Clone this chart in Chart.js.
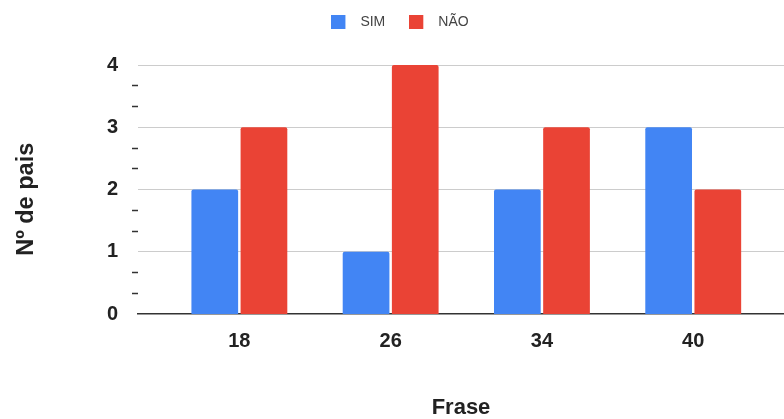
<!DOCTYPE html>
<html>
<head>
<meta charset="utf-8">
<script src="https://cdn.jsdelivr.net/npm/chart.js@4"></script>
<style>
  html, body { margin: 0; padding: 0; background: #fff; }
  #wrap { width: 784px; height: 419px; }
</style>
</head>
<body>
<div id="wrap"><canvas id="chart"></canvas></div>
<script>
const frases = ["18", "26", "34", "40"];
const sim = [2, 1, 2, 3];
const nao = [3, 4, 3, 2];
const yTicks = [0, 1, 2, 3, 4];

const FONT = "'Liberation Sans', Arial, sans-serif";

// legend swatch with some empty space on the right, like the sheets legend
function swatch(color) {
  const c = document.createElement("canvas");
  c.width = 22;
  c.height = 14;
  const g = c.getContext("2d");
  g.fillStyle = color;
  g.fillRect(0, 0, 14, 14);
  return c;
}

function isMajor(v) {
  return Math.abs(v - Math.round(v)) < 1e-6;
}

// more room under the legend, and nudge it a bit to the right
const legendGap = {
  id: "legendGap",
  afterInit(chart) {
    const lg = chart.legend;
    if (!lg || lg._gapWrapped) return;
    const fit = lg.fit;
    lg.fit = function () {
      fit.call(this);
      this.height += 26;
    };
    lg._gapWrapped = true;
  },
  afterLayout(chart) {
    const lg = chart.legend;
    if (!lg) return;
    lg.left += 8;
    lg.right += 8;
  },
};

const data = {
  datasets: [
    {
      label: "SIM",
      backgroundColor: "#4285F4",
      data: sim.map((v, i) => ({ x: i, y: v })),
    },
    {
      label: "NÃO",
      backgroundColor: "#EA4335",
      data: nao.map((v, i) => ({ x: i, y: v })),
    },
  ],
};

const config = {
  type: "bar",
  data: data,
  plugins: [legendGap],
  options: {
    responsive: true,
    maintainAspectRatio: false,
    animation: false,
    layout: { padding: { top: -9, right: 0, bottom: 0, left: 0 } },
    datasets: {
      bar: {
        categoryPercentage: 0.65,
        barPercentage: 0.95,
        borderRadius: 2,
        borderSkipped: "bottom",
      },
    },
    plugins: {
      tooltip: { enabled: false },
      legend: {
        position: "top",
        align: "center",
        labels: {
          usePointStyle: true,
          pointStyleWidth: 22,
          boxHeight: 14,
          padding: 24,
          color: "#444",
          font: { family: FONT, size: 14 },
          generateLabels: (chart) =>
            chart.data.datasets.map((ds, i) => ({
              text: ds.label,
              pointStyle: swatch(ds.backgroundColor),
              fillStyle: ds.backgroundColor,
              strokeStyle: ds.backgroundColor,
              lineWidth: 0,
              fontColor: "#444",
              datasetIndex: i,
              hidden: false,
            })),
        },
      },
    },
    scales: {
      x: {
        type: "linear",
        offset: false,
        min: -0.67,
        max: 3.6,
        afterBuildTicks: (scale) => {
          scale.ticks = frases.map((f, i) => ({ value: i }));
        },
        afterFit: (scale) => {
          scale.height = 105;
        },
        grid: { display: false },
        border: { display: true, color: "#333", width: 1.5 },
        ticks: {
          autoSkip: false,
          maxRotation: 0,
          padding: 7,
          color: "#222",
          font: { family: FONT, size: 20, weight: "bold" },
          callback: (v) => frases[v],
        },
        title: {
          display: true,
          text: "Frase",
          color: "#222",
          padding: { top: 0, bottom: -2 },
          font: { family: FONT, size: 22, weight: "bold" },
        },
      },
      y: {
        min: 0,
        max: 4,
        afterBuildTicks: (scale) => {
          const t = [];
          for (let i = 0; i <= 12; i++) t.push({ value: i / 3 });
          scale.ticks = t;
        },
        afterFit: (scale) => {
          scale.width = 138;
        },
        border: { display: false },
        grid: {
          drawTicks: true,
          tickLength: 6,
          lineWidth: (ctx) => (ctx.tick && ctx.tick.value === 0 ? 0 : 1),
          color: (ctx) =>
            ctx.tick && isMajor(ctx.tick.value) ? "#cccccc" : "rgba(0,0,0,0)",
          tickColor: (ctx) =>
            ctx.tick && isMajor(ctx.tick.value) ? "rgba(0,0,0,0)" : "#333",
          tickWidth: 1.5,
        },
        ticks: {
          autoSkip: false,
          padding: 14,
          color: "#222",
          font: { family: FONT, size: 20, weight: "bold" },
          callback: (v) => (isMajor(v) && yTicks.includes(Math.round(v)) ? String(Math.round(v)) : ""),
        },
        title: {
          display: true,
          // trailing spaces push the rotated title a little lower, as in the original
          text: "Nº de pais   ",
          color: "#222",
          padding: { top: 12, bottom: 0 },
          font: { family: FONT, size: 23.5, weight: "bold" },
        },
      },
    },
  },
};

const chart = new Chart(document.getElementById("chart"), config);
</script>
</body>
</html>
